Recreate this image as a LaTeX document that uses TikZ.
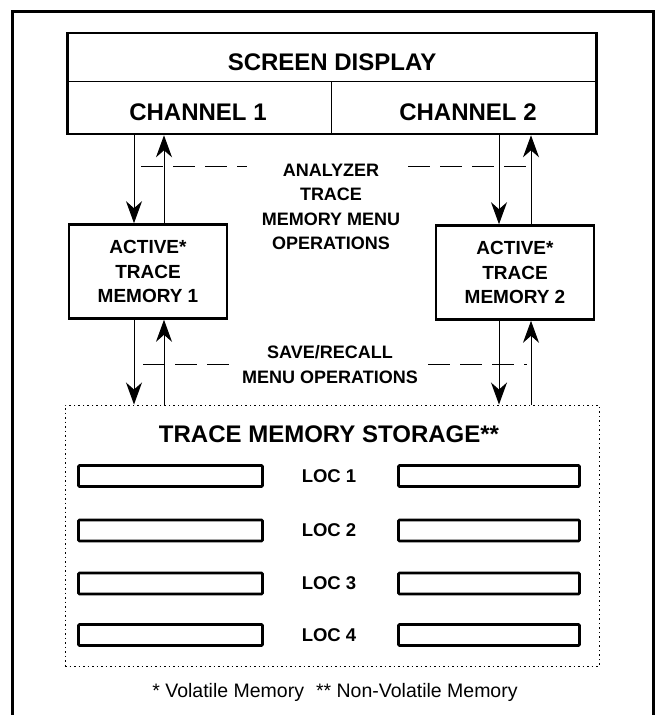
\documentclass[tikz,border=0pt]{standalone}
\usepackage{fontspec}
\setmainfont{Liberation Sans}
\usetikzlibrary{arrows.meta}

\begin{document}
\begin{tikzpicture}
  [x=1pt, y=-1pt,
   box/.style={draw, line width=2.6pt, inner sep=0pt},
   big/.style={font=\bfseries\fontsize{24}{28}\selectfont},
   mid/.style={font=\bfseries\fontsize{18}{24.5}\selectfont, align=center},
   act/.style={box, minimum width=158pt, minimum height=94pt, align=center,
     font=\bfseries\fontsize{19}{24.5}\selectfont},
   slot/.style={draw, line width=2.6pt, rounded corners=1pt, minimum height=21pt, inner sep=0pt},
   loclbl/.style={font=\bfseries\fontsize{18.5}{22}\selectfont},
   flow/.style={line width=1pt, -{Stealth[length=22pt, width=16pt, inset=7pt]}},
   menu/.style={line width=0.9pt, dash pattern=on 22pt off 10pt}]
  \useasboundingbox (0,0) rectangle (658,715);
  % frame, open at the bottom
  \draw[line width=3pt] (12.5,720) -- (12.5,11) -- (653,11) -- (653,720);

  % screen display
  \node[box, minimum width=529pt, minimum height=101pt] (screen) at (332,83.5) {};
  \draw[line width=1pt] (screen.west |- 0,81) -- (screen.east |- 0,81);
  \draw[line width=1pt] (331,81) -- (screen.south -| 331,0);
  \node[big] (title) at (332,62) {SCREEN DISPLAY};
  \node[big] (ch1) at (198,112) {CHANNEL 1};
  \node[big] (ch2) at (468,112) {CHANNEL 2};

  % active trace memories
  \node[act] (act1) at (148,271.5) {ACTIVE*\\TRACE\\MEMORY 1};
  \node[act] (act2) at (515,272.5) {ACTIVE*\\TRACE\\MEMORY 2};

  % storage
  \node[draw, line width=1pt, dash pattern=on 1.5pt off 3pt,
        minimum width=534pt, minimum height=261pt] (store) at (332,535.5) {};
  \node[big] (storetitle) at (329,434) {TRACE MEMORY STORAGE**};
  \foreach \i/\y in {1/476,2/530.5,3/583.5,4/635} {
    \node[slot, minimum width=184pt] (slotL\i) at (170.5,\y) {};
    \node[slot, minimum width=181pt] (slotR\i) at (489,\y) {};
    \node[loclbl] (loc\i) at (329,\y) {LOC \i};
  }

  % arrow columns
  \coordinate (xa) at (134,0);
  \coordinate (xb) at (164,0);
  \coordinate (xc) at (499,0);
  \coordinate (xd) at (531,0);
  \draw[flow] (xa |- screen.south) -- (xa |- act1.north);
  \draw[flow] (xb |- act1.north) -- (xb |- screen.south);
  \draw[flow] (xc |- screen.south) -- (xc |- act2.north);
  \draw[flow] (xd |- act2.north) -- (xd |- screen.south);
  \draw[flow] (xa |- act1.south) -- (xa |- store.north);
  \draw[flow] (xb |- store.north) -- (xb |- act1.south);
  \draw[flow] (xc |- act2.south) -- (xc |- store.north);
  \draw[flow] (xd |- store.north) -- (xd |- act2.south);

  % menu operations
  \node[mid] (ops) at (331,207) {ANALYZER\\TRACE\\MEMORY MENU\\OPERATIONS};
  \node[mid] (saverec) at (330,364.5) {SAVE/RECALL\\MENU OPERATIONS};
  \coordinate (d1) at (141,166);  \coordinate (d2) at (247,166);
  \coordinate (d3) at (408,166);  \coordinate (d4) at (527,166);
  \coordinate (d5) at (143,364);  \coordinate (d6) at (232,364);
  \coordinate (d7) at (428,364);  \coordinate (d8) at (527,364);
  \draw[menu] (d1) -- (d2);
  \draw[menu] (d3) -- (d4);
  \draw[menu] (d5) -- (d6);
  \draw[menu] (d7) -- (d8);

  \node[font=\fontsize{19.5}{22}\selectfont] (note) at (335,692)
    {* Volatile Memory\hspace{12pt}** Non-Volatile Memory};
\end{tikzpicture}
\end{document}
